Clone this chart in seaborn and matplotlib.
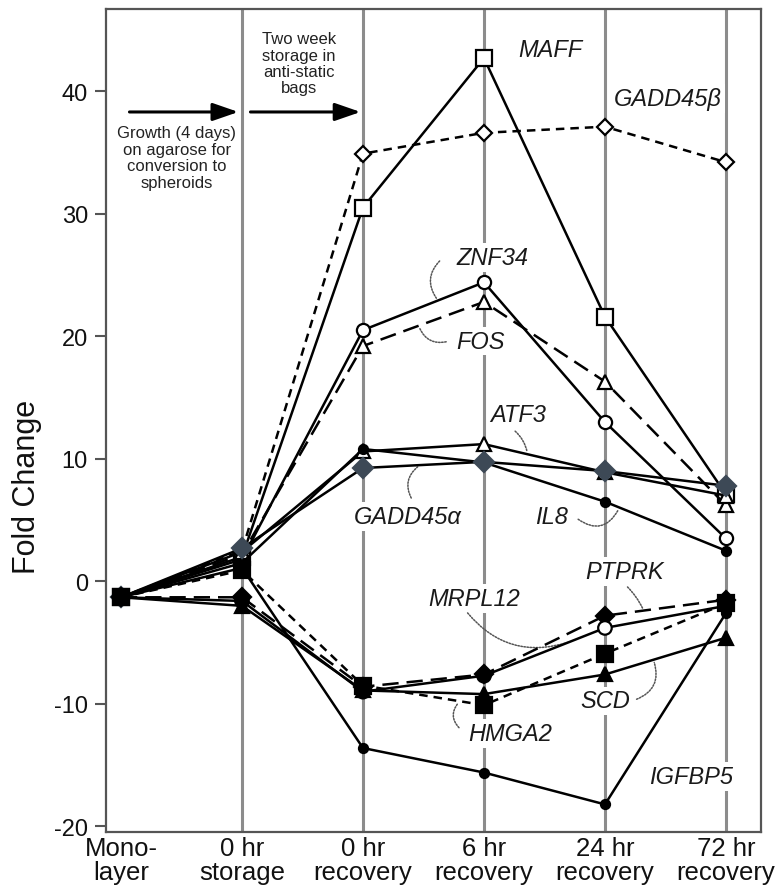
import numpy as np
import pandas as pd
import matplotlib
matplotlib.use("Agg")
import matplotlib.pyplot as plt
from matplotlib import font_manager
import seaborn as sns

# ---- data -------------------------------------------------------------
stages = ["Mono-\nlayer", "0 hr\nstorage", "0 hr\nrecovery",
          "6 hr\nrecovery", "24 hr\nrecovery", "72 hr\nrecovery"]

maff = [-1.3, 2.0, 30.5, 42.7, 21.6, 7.1]
gadd45b = [-1.3, 2.5, 34.9, 36.6, 37.1, 34.2]
znf34 = [-1.3, 1.8, 20.5, 24.4, 13.0, 3.5]
fos = [-1.3, 2.2, 19.2, 22.8, 16.3, 6.2]
atf3 = [-1.3, 2.4, 10.6, 11.2, 8.9, 7.0]
il8 = [-1.3, 1.5, 10.8, 9.7, 6.5, 2.5]
gadd45a = [-1.3, 2.7, 9.25, 9.75, 9.0, 7.8]
mrpl12 = [-1.3, -1.6, -9.0, -7.7, -3.8, -2.0]
ptprk = [-1.3, -1.3, -8.6, -7.6, -2.8, -1.5]
hmga2 = [-1.3, 0.9, -8.5, -10.1, -5.9, -1.8]
scd = [-1.3, -2.0, -8.9, -9.2, -7.6, -4.6]
igfbp5 = [-1.3, 1.1, -13.6, -15.6, -18.2, -2.6]

# marker fill per time point for MRPL12 (24 hr point is open)
mrpl12_fill = ["black", "black", "black", "black", "white", "black"]

series = {
    "MAFF": maff, "GADD45β": gadd45b, "ZNF34": znf34, "FOS": fos,
    "ATF3": atf3, "IL8": il8, "GADD45α": gadd45a, "MRPL12": mrpl12,
    "PTPRK": ptprk, "HMGA2": hmga2, "SCD": scd, "IGFBP5": igfbp5,
}

# ---- styling ----------------------------------------------------------
slate = "#3d4956"
SHORT = (0, (3.4, 2.4))
LONG = (0, (6.5, 3.2))
styles = {
    "MAFF":    dict(ls="-",  marker="s", ms=11, fc="white", ec="black"),
    "GADD45β": dict(ls=SHORT, marker="D", ms=8.5, fc="white", ec="black"),
    "ZNF34":   dict(ls="-",  marker="o", ms=9.5, fc="white", ec="black"),
    "FOS":     dict(ls=LONG, marker="^", ms=10, fc="white", ec="black"),
    "ATF3":    dict(ls="-",  marker="^", ms=10, fc="white", ec="black"),
    "IL8":     dict(ls="-",  marker="o", ms=6.5, fc="black", ec="black"),
    "GADD45α": dict(ls="-",  marker="D", ms=10, fc=slate, ec=slate),
    "MRPL12":  dict(ls="-",  marker=None, ms=0, fc="black", ec="black"),
    "PTPRK":   dict(ls=LONG, marker="D", ms=9.5, fc="black", ec="black"),
    "HMGA2":   dict(ls=SHORT, marker="s", ms=11, fc="black", ec="black"),
    "SCD":     dict(ls="-",  marker="^", ms=9.5, fc="black", ec="black"),
    "IGFBP5":  dict(ls="-",  marker="o", ms=6.5, fc="black", ec="black"),
}

# gene label placement (centre of text) and optional dotted leader to the curve
labels = {
    "MAFF":    dict(xy=(3.55, 43.4)),
    "GADD45β": dict(xy=(4.52, 39.4)),
    "ZNF34":   dict(xy=(3.07, 26.4), lead_from=(2.65, 26.3), lead_x=2.62, rad=0.45),
    "FOS":     dict(xy=(2.97, 19.6), lead_from=(2.71, 19.6), lead_x=2.46, rad=-0.45),
    "ATF3":    dict(xy=(3.28, 13.6), lead_from=(3.24, 12.4), lead_x=3.36, rad=-0.2),
    "GADD45α": dict(xy=(2.37, 5.3), lead_from=(2.41, 6.6), lead_x=2.47, rad=-0.45),
    "IL8":     dict(xy=(3.56, 5.3), lead_from=(3.76, 5.2), lead_x=4.12, rad=0.6),
    "PTPRK":   dict(xy=(4.16, 0.8), lead_from=(4.17, -0.3), lead_x=4.32, rad=-0.1),
    "MRPL12":  dict(xy=(2.92, -1.4), lead_from=(2.85, -2.4), lead_x=3.72, rad=0.35),
    "HMGA2":   dict(xy=(3.22, -12.4), lead_from=(2.81, -12.1), lead_x=2.8, rad=-0.5),
    "SCD":     dict(xy=(4.0, -9.75), lead_from=(4.24, -9.7), lead_x=4.4, rad=0.5),
    "IGFBP5":  dict(xy=(4.71, -15.9)),
}

sns.set_theme(style="white")
available = {f.name for f in font_manager.fontManager.ttflist}
narrow = "Liberation Sans Narrow" if "Liberation Sans Narrow" in available else "Liberation Sans"
plt.rcParams["font.family"] = ["Liberation Sans", "DejaVu Sans"]

fig = plt.figure(figsize=(7.76, 8.95), dpi=100)
ax = fig.add_axes([0.1366, 0.0693, 0.8441, 0.9195])

xpos = np.arange(len(stages))
frame = pd.DataFrame({"stage": xpos, **series})

# vertical guide lines at each sampled condition
for x in xpos[1:]:
    ax.axvline(x, color="#8c8c8c", lw=2.2, zorder=0)

for name, vals in series.items():
    st = styles[name]
    kw = dict(color="black", lw=1.8, linestyle=st["ls"], zorder=3)
    if st["marker"] is not None:
        kw.update(marker=st["marker"], markersize=st["ms"],
                  markerfacecolor=st["fc"], markeredgecolor=st["ec"],
                  markeredgewidth=1.6)
    sns.lineplot(data=frame, x="stage", y=name, ax=ax, errorbar=None,
                 legend=False, **kw)

# MRPL12 markers with per-point fill
ax.scatter(frame["stage"], frame["MRPL12"], s=95, marker="o",
           facecolors=mrpl12_fill, edgecolors="black", linewidths=1.6, zorder=4)

# gene labels and dotted leaders
for name, spec in labels.items():
    ax.text(*spec["xy"], name, style="italic", fontsize=17, ha="center",
            va="center", color="#1a1a1a", zorder=1.5,
            bbox=dict(boxstyle="square,pad=0.12", fc="white", ec="none"))
    if "lead_x" in spec:
        yv = np.interp(spec["lead_x"], xpos, series[name])
        ax.annotate("", xy=(spec["lead_x"], yv), xytext=spec["lead_from"],
                    arrowprops=dict(arrowstyle="-", linestyle=(0, (1, 1)),
                                    lw=1.1, color="#555555",
                                    connectionstyle=f"arc3,rad={spec['rad']}"),
                    zorder=2)

# protocol annotations
arrow_kw = dict(arrowstyle="-|>,head_length=1.3,head_width=0.45", lw=2.2,
                color="black", shrinkA=0, shrinkB=0)
ax.annotate("", xy=(0.97, 38.3), xytext=(0.07, 38.3), arrowprops=arrow_kw)
ax.annotate("", xy=(1.98, 38.3), xytext=(1.07, 38.3), arrowprops=arrow_kw)
ax.text(0.46, 37.2, "Growth (4 days)\non agarose for\nconversion to\nspheroids",
        ha="center", va="top", fontsize=12, color="#222222", linespacing=1.12)
ax.text(1.47, 44.9, "Two week\nstorage in\nanti-static\nbags",
        ha="center", va="top", fontsize=12, color="#222222", linespacing=1.12)

# axes
ax.set_xlim(-0.124, 5.29)
ax.set_ylim(-20.45, 46.7)
ax.set_xticks(xpos)
ax.set_xticklabels(stages, fontsize=18.5, family=[narrow, "DejaVu Sans"],
                   linespacing=0.98)
ax.set_yticks([-20, -10, 0, 10, 20, 30, 40])
ax.set_yticklabels(["-20", "-10", "0", "10", "20", "30", "40"], fontsize=17)
ax.tick_params(axis="x", length=0, pad=3, colors="#111111")
ax.tick_params(axis="y", left=True, length=8, width=1.5, color="#555555",
               pad=5, labelcolor="#111111")
ax.set_xlabel("")
ax.set_ylabel("Fold Change", fontsize=22, color="#111111")
ax.yaxis.set_label_coords(-0.097, 0.42)
for sp in ax.spines.values():
    sp.set_color("#555555")
    sp.set_linewidth(1.6)

fig.savefig("out.png", dpi=100, facecolor="white")
